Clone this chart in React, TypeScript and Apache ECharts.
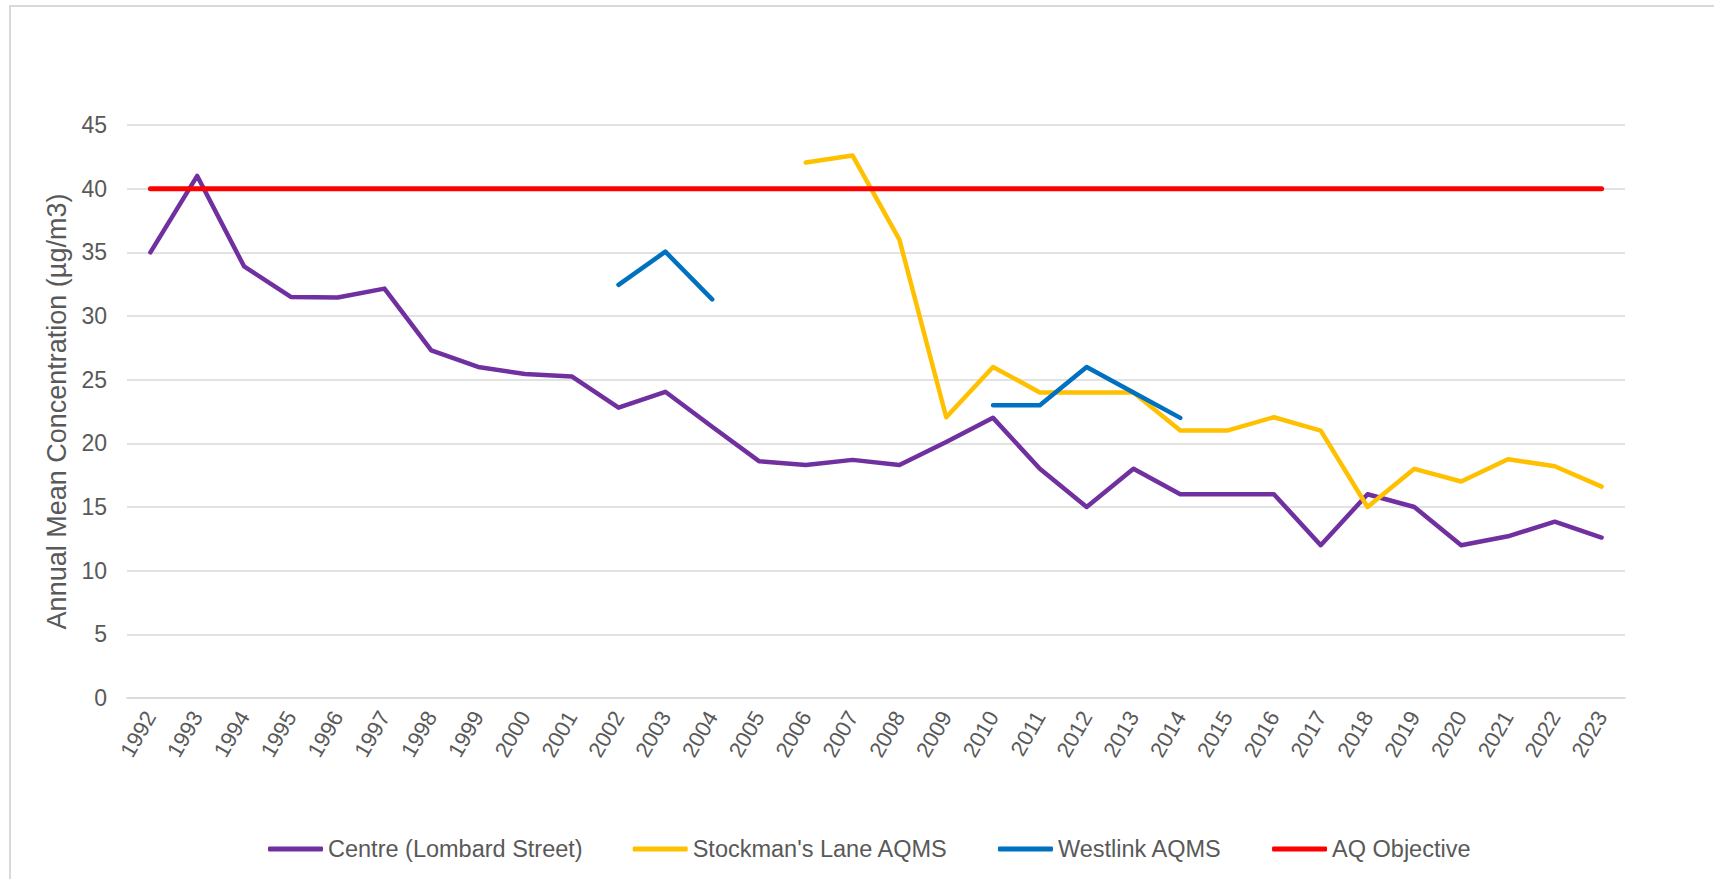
import React, { useEffect, useRef } from "react";
import * as echarts from "echarts";

const years = [
  "1992", "1993", "1994", "1995", "1996", "1997", "1998", "1999", "2000", "2001",
  "2002", "2003", "2004", "2005", "2006", "2007", "2008", "2009", "2010", "2011",
  "2012", "2013", "2014", "2015", "2016", "2017", "2018", "2019", "2020", "2021",
  "2022", "2023",
];

const centre = [
  35, 41, 33.9, 31.5, 31.45, 32.15, 27.3, 26, 25.45, 25.25,
  22.8, 24.05, 21.3, 18.6, 18.3, 18.7, 18.3, 20.1, 22, 18,
  15, 18, 16, 16, 16, 12, 16, 15, 12, 12.7,
  13.85, 12.6,
];

const stockmans = [
  null, null, null, null, null, null, null, null, null, null,
  null, null, null, null, 42.05, 42.6, 36, 22.05, 26, 24,
  24, 24, 21, 21, 22.05, 21, 15, 18, 17, 18.75,
  18.2, 16.6,
];

const westlink = [
  null, null, null, null, null, null, null, null, null, null,
  32.45, 35.05, 31.3, null, null, null, null, null, 23, 23,
  26, 24, 22, null, null, null, null, null, null, null,
  null, null,
];

const objective = [
  40, 40, 40, 40, 40, 40, 40, 40, 40, 40,
  40, 40, 40, 40, 40, 40, 40, 40, 40, 40,
  40, 40, 40, 40, 40, 40, 40, 40, 40, 40,
  40, 40,
];

const seriesNames = [
  "Centre (Lombard Street)",
  "Stockman's Lane AQMS",
  "Westlink AQMS",
  "AQ Objective",
];
const seriesColors = ["#7030A0", "#FFC000", "#0070C0", "#FF0000"];

const FONT = "'Liberation Sans', Arial, sans-serif";
const TEXT = "#595959";

export default function App() {
  const ref = useRef<HTMLDivElement>(null);

  useEffect(() => {
    if (!ref.current) return;
    const chart = echarts.init(ref.current, undefined, { renderer: "svg" });
    const datasets = [centre, stockmans, westlink, objective];
    chart.setOption({
      animation: false,
      backgroundColor: "#ffffff",
      textStyle: { fontFamily: FONT },
      graphic: [
        {
          type: "rect",
          shape: { x: 10, y: 6, width: 1720, height: 900 },
          style: { fill: "none", stroke: "#d9d9d9", lineWidth: 2 },
          silent: true,
        },
      ],
      grid: { left: 127, right: 89, top: 125, bottom: 181 },
      legend: {
        left: 263,
        top: 832,
        itemGap: 50,
        itemWidth: 55,
        itemHeight: 5,
        icon: "roundRect",
        data: seriesNames,
        textStyle: { fontSize: 23.5, color: TEXT, fontFamily: FONT },
      },
      xAxis: {
        type: "category",
        data: years,
        boundaryGap: true,
        axisLine: { show: true, lineStyle: { color: "#d9d9d9", width: 1.5 } },
        axisTick: { show: false },
        axisLabel: {
          interval: 0,
          rotate: 60,
          margin: 15,
          fontSize: 22,
          color: TEXT,
          fontFamily: FONT,
        },
      },
      yAxis: {
        type: "value",
        min: 0,
        max: 45,
        interval: 5,
        name: "Annual Mean Concentration (µg/m3)",
        nameLocation: "middle",
        nameGap: 57,
        nameTextStyle: { fontSize: 27, color: TEXT, fontFamily: FONT },
        axisLine: { show: false },
        axisTick: { show: false },
        axisLabel: { margin: 20, fontSize: 23, color: TEXT, fontFamily: FONT },
        splitLine: { lineStyle: { color: "#d9d9d9", width: 1.5 } },
      },
      series: datasets.map((d, i) => ({
        name: seriesNames[i],
        type: "line",
        data: d,
        symbol: "none",
        connectNulls: false,
        color: seriesColors[i],
        lineStyle: {
          color: seriesColors[i],
          width: i === 3 ? 5 : 4.5,
          cap: "round",
          join: "round",
        },
      })),
    });
    return () => chart.dispose();
  }, []);

  return (
    <div
      ref={ref}
      style={{ position: "absolute", left: 0, top: 0, width: 1714, height: 879 }}
    />
  );
}
